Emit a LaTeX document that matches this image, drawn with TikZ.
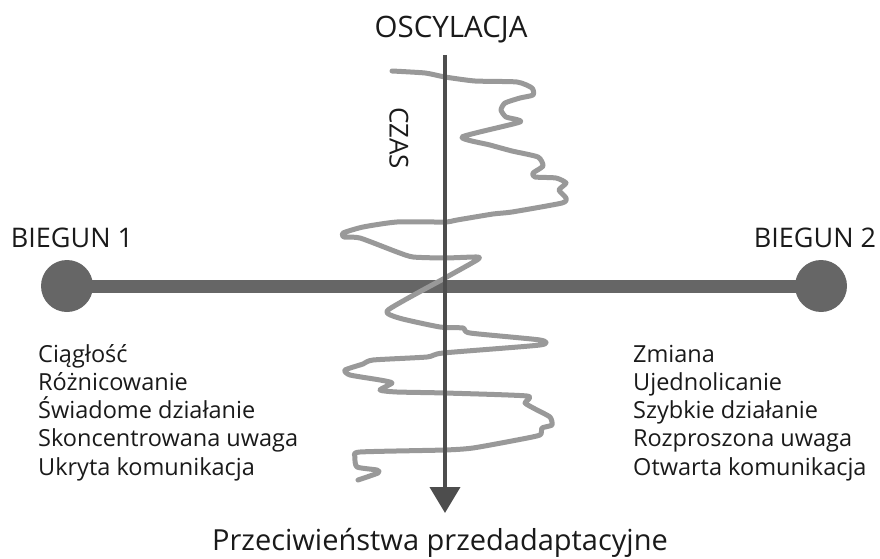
\documentclass[tikz,border=0pt]{standalone}
\usepackage{fontspec}
\setmainfont{Open Sans}
\usetikzlibrary{arrows.meta}
\definecolor{axisgray}{HTML}{4D4D4D}
\definecolor{polegray}{HTML}{666666}
\definecolor{wavegray}{HTML}{999999}
\definecolor{textblack}{HTML}{1A1A1A}

\begin{document}
\begin{tikzpicture}[x=1pt, y=-1pt,
    labeltext/.style={text=textblack, inner sep=0pt, anchor=base,
                      font=\fontsize{27}{30}\selectfont},
    listtext/.style={text=textblack, inner sep=0pt, anchor=base west,
                     font=\fontsize{23.5}{28}\selectfont},
    polenode/.style={circle, fill=polegray, minimum size=52pt, inner sep=0pt},
    polebar/.style={polegray, line width=13pt,
                    shorten >=-3pt, shorten <=-3pt},
    timeaxis/.style={-{Triangle[length=26pt,width=30pt]}, axisgray, line width=4pt},
    oscpath/.style={wavegray, line width=5pt, line join=round, line cap=round}
]
\useasboundingbox (0,0) rectangle (880,559);

% poles and the bar between them
\node[polenode] (P1) at (67,286) {};
\node[polenode] (P2) at (821,286) {};
\draw[polebar] (P1) -- (P2);

% oscillation trace
\draw[oscpath] plot[smooth, tension=0.35] coordinates {
  (392,71) (425,73) (445,77) (475,81) (517,82) (532,88) (533,95) (520,98)
  (505,103) (501,110) (506,117) (520,122) (462,137) (490,145) (512,151)
  (538,157) (543,166) (533,173) (535,177) (556,178) (566,183) (559,190)
  (566,198) (562,203) (512,212) (493,214) (457,220) (445,222) (397,222)
  (363,227) (343,233) (344,237) (360,238) (397,252) (413,257) (445,258)
  (477,257) (477,260) (445,278) (388,310) (399,318) (440,327) (463,328)
  (470,333) (540,340) (540,345) (443,353) (427,357) (373,360) (363,364)
  (345,370) (350,375) (380,380) (392,383) (380,390) (397,392) (445,393)
  (527,396) (525,403) (537,410) (550,417) (552,425) (542,428) (540,435)
  (517,440) (473,448) (445,450) (360,452) (355,457) (357,467) (377,470)
  (378,473) (358,480)};

% time axis
\coordinate (axtop) at (445,55);
\coordinate (axtip) at (445,513);
\draw[timeaxis] (axtop) -- (axtip);

% labels
\node[labeltext, font=\fontsize{29.5}{32}\selectfont] (osc) at (451,38) {OSCYLACJA};
\node[labeltext] (bieg1) at (72,247) {BIEGUN 1};
\node[labeltext] (bieg2) at (815,247) {BIEGUN 2};
\node[labeltext, anchor=center, rotate=-90, font=\fontsize{26}{30}\selectfont]
  (czas) at (399,138) {CZAS};
\node[labeltext, font=\fontsize{29}{32}\selectfont] (title) at (440,550)
  {Przeciwieństwa przedadaptacyjne};

\foreach \txt [count=\i] in {Ciągłość, Różnicowanie, Świadome działanie,
    Skoncentrowana uwaga, Ukryta komunikacja}
  \node[listtext] (l\i) at (38,{362+28.3*(\i-1)}) {\txt};
\foreach \txt [count=\i] in {Zmiana, Ujednolicanie, Szybkie działanie,
    Rozproszona uwaga, Otwarta komunikacja}
  \node[listtext] (r\i) at (633,{362+28.3*(\i-1)}) {\txt};

\end{tikzpicture}
\end{document}
